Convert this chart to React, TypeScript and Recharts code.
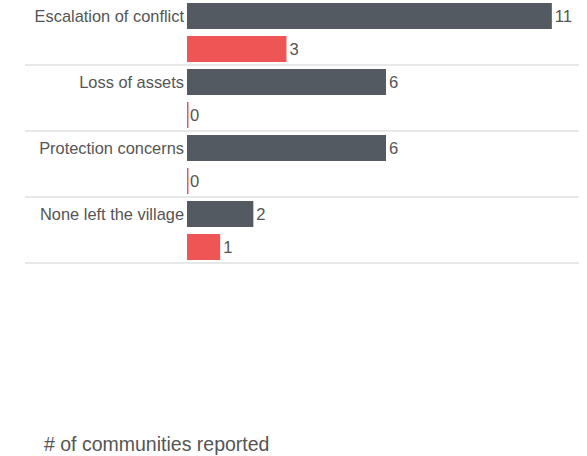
import React from "react";
import { BarChart, Bar, XAxis, YAxis, LabelList } from "recharts";

const categories = ["Escalation of conflict", "Loss of assets", "Protection concerns", "None left the village"];
const seriesA = [11, 6, 6, 2];
const seriesB = [3, 0, 0, 1];
const axisTitle = "# of communities reported";

const data = categories.map((c, i) => ({ name: c, a: seriesA[i], b: seriesB[i] }));

const W = 587;
const H = 456;
const TOP = -1;
const PLOT_H = 264;
const LEFT = 187;
const BAR = 26;
const GAP = 7;
const BAND = PLOT_H / categories.length;

const GRAY = "#535a61";
const RED = "#ee5656";
const TEXT = "#555555";
const FONT = "Arial, 'Liberation Sans', sans-serif";

const CatTick = (props: any) => {
  const { y, payload } = props;
  return (
    <g>
      <text
        x={LEFT - 3}
        y={y - (BAR + GAP) / 2}
        textAnchor="end"
        dominantBaseline="central"
        fontSize={16.4}
        fontFamily={FONT}
        fill={TEXT}
      >
        {payload.value}
      </text>
      <line x1={25} x2={579} y1={y + BAND / 2} y2={y + BAND / 2} stroke="#e0e0e0" strokeWidth={1.5} />
    </g>
  );
};

const ThinShape = (props: any) => {
  const { x, y, width, height, fill } = props;
  return <rect x={x} y={y} width={Math.max(width, 1.5)} height={height} fill={fill} />;
};

export default function App() {
  return (
    <div style={{ position: "absolute", left: 0, top: 0, width: W, height: H, background: "#fff" }}>
      <BarChart
        width={W}
        height={H}
        data={data}
        layout="vertical"
        margin={{ top: TOP, right: 2, left: 0, bottom: H - TOP - PLOT_H }}
        barSize={BAR}
        barGap={GAP}
      >
        <XAxis type="number" domain={[0, 12]} hide />
        <YAxis
          type="category"
          dataKey="name"
          width={LEFT}
          axisLine={false}
          tickLine={false}
          tick={<CatTick />}
          interval={0}
        />
        <Bar dataKey="a" fill={GRAY} isAnimationActive={false}>
          <LabelList dataKey="a" position="right" offset={3} fontSize={16.6} fontFamily={FONT} fill={TEXT} />
        </Bar>
        <Bar dataKey="b" fill={RED} isAnimationActive={false} shape={<ThinShape />}>
          <LabelList dataKey="b" position="right" offset={3} fontSize={16.6} fontFamily={FONT} fill={TEXT} />
        </Bar>
      </BarChart>
      <div
        style={{
          position: "absolute",
          left: 44,
          top: 433,
          fontFamily: FONT,
          fontSize: 19.5,
          color: TEXT,
          lineHeight: "22px",
          whiteSpace: "nowrap",
        }}
      >
        {axisTitle}
      </div>
    </div>
  );
}
